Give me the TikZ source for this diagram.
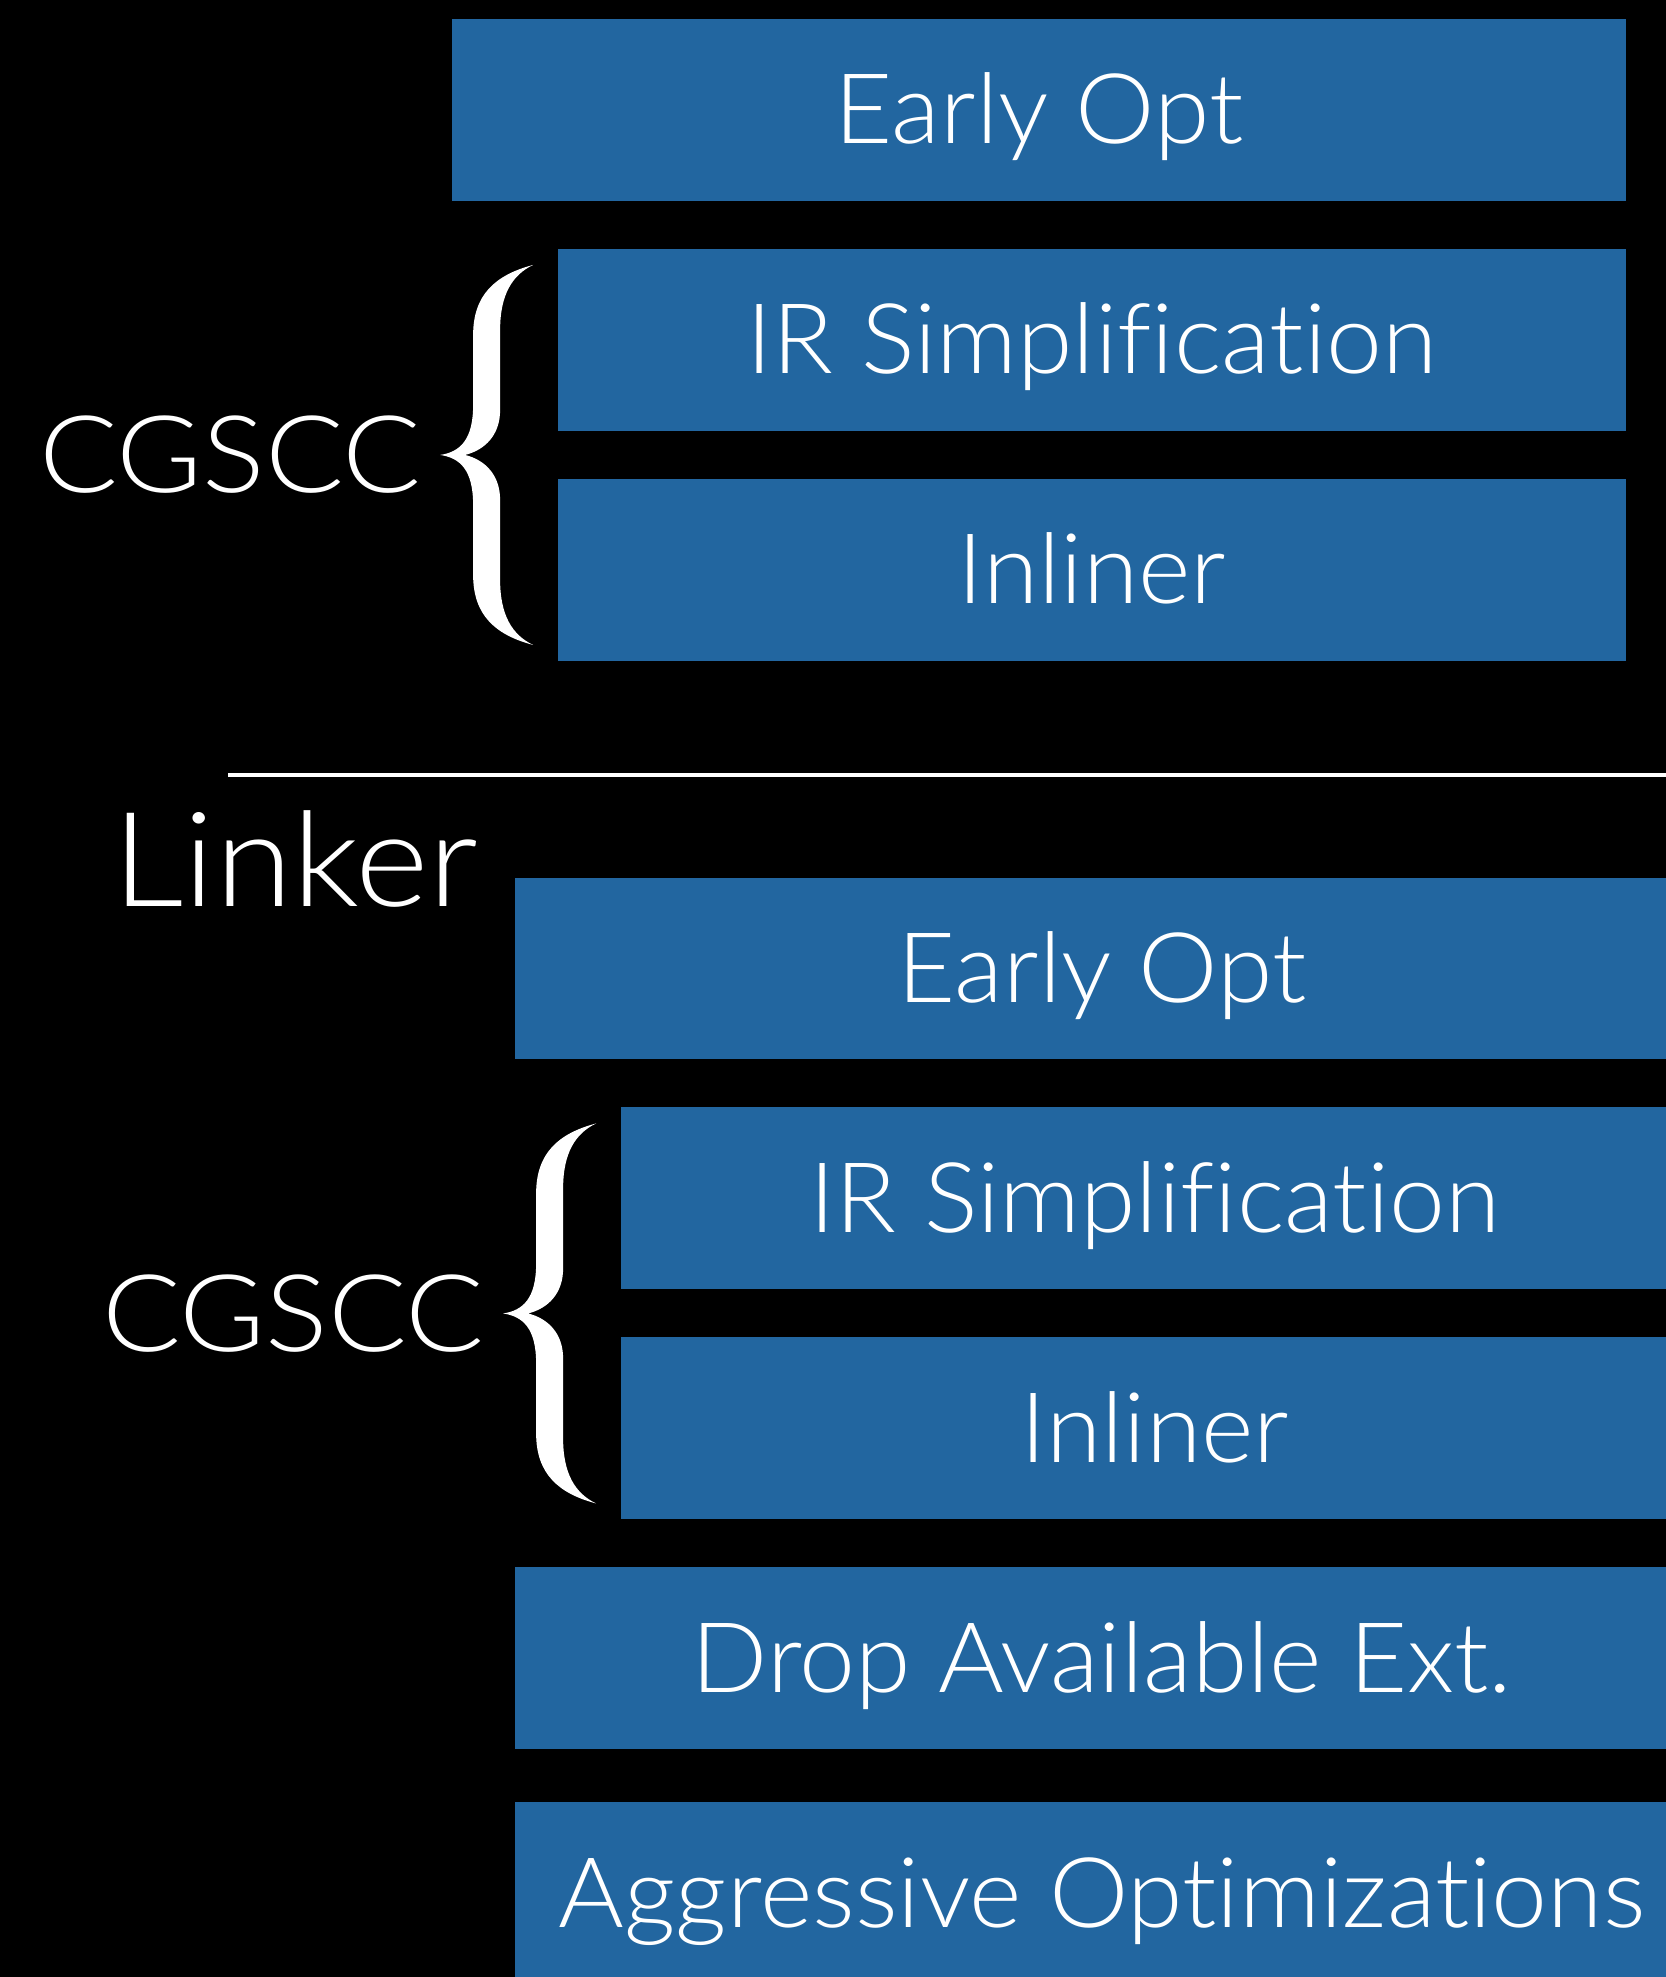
\documentclass[tikz,border=0pt]{standalone}
\usepackage{fontspec}
\setmainfont{Lato Light}[Ligatures=NoCommon]
\usepackage{tikz}
\usetikzlibrary{positioning}

\definecolor{passblue}{RGB}{34,102,160}

\begin{document}
\begin{tikzpicture}[x=0.02cm, y=-0.02cm,
    pass/.style={fill=passblue, text=white, inner sep=0pt, outer sep=0pt,
        minimum height=3.64cm, text height=1.36cm, text depth=0pt,
        font=\fontsize{55.5}{60}\selectfont\addfontfeature{FakeStretch=1.03}},
    wide/.style={pass, minimum width=23.48cm},
    narrow/.style={pass, minimum width=21.36cm},
    side/.style={text=white, inner sep=0pt,
        font=\fontsize{61}{66}\selectfont\addfontfeature{FakeStretch=1.09}},
    stage/.style={text=white, inner sep=0pt,
        font=\fontsize{75}{80}\selectfont\addfontfeature{FakeStretch=1.07}}]
    \fill[black] (0,0) rectangle (1666,1977);
    \clip (0,0) rectangle (1666,1977);

    \node[wide] (early1) at (1039,110) {Early Opt};
    \node[narrow, below left=0.96cm and 0cm of early1.south east] (irs1) {IR Simplification};
    \node[narrow, below=0.96cm of irs1] (inl1) {Inliner};
    \coordinate[below left=0.48cm and 2.36cm of irs1.south west] (tip1);
    \node[side, left=0.36cm of tip1] (cgscc1) {CGSCC};

    \coordinate (rule1) at (228,775);
    \coordinate (rule2) at (1700,775);
    \draw[white, line width=2.3pt] (rule1) -- (rule2);

    \node[stage, anchor=base west] (linker) at (112,906) {Linker};

    \node[wide] (early2) at (1102,968.5) {Early Opt};
    \node[narrow, below left=0.96cm and 0cm of early2.south east] (irs2) {IR Simplification};
    \node[narrow, below=0.96cm of irs2] (inl2) {Inliner};
    \coordinate[below left=0.48cm and 2.36cm of irs2.south west] (tip2);
    \node[side, left=0.36cm of tip2] (cgscc2) {CGSCC};
    \node[wide, below right=0.96cm and 0cm of inl2.south west -| early2.west] (drop) {Drop Available Ext.};
    \node[wide, below=1.06cm of drop] (aggr) {Aggressive Optimizations};

    \foreach \t in {tip1,tip2}
        \fill[white, shift={(\t)}] (93,-190) .. controls (55,-180) and (33,-160) .. (33,-120)
            -- (33,-50) .. controls (33,-15) and (20,-3) .. (0,0)
            .. controls (20,3) and (33,15) .. (33,50) -- (33,120)
            .. controls (33,160) and (55,180) .. (93,190)
            .. controls (72,180) and (60,160) .. (60,125) -- (60,45)
            .. controls (60,20) and (45,5) .. (25,0)
            .. controls (45,-5) and (60,-20) .. (60,-45) -- (60,-125)
            .. controls (60,-160) and (72,-180) .. (93,-190) -- cycle;
\end{tikzpicture}
\end{document}
